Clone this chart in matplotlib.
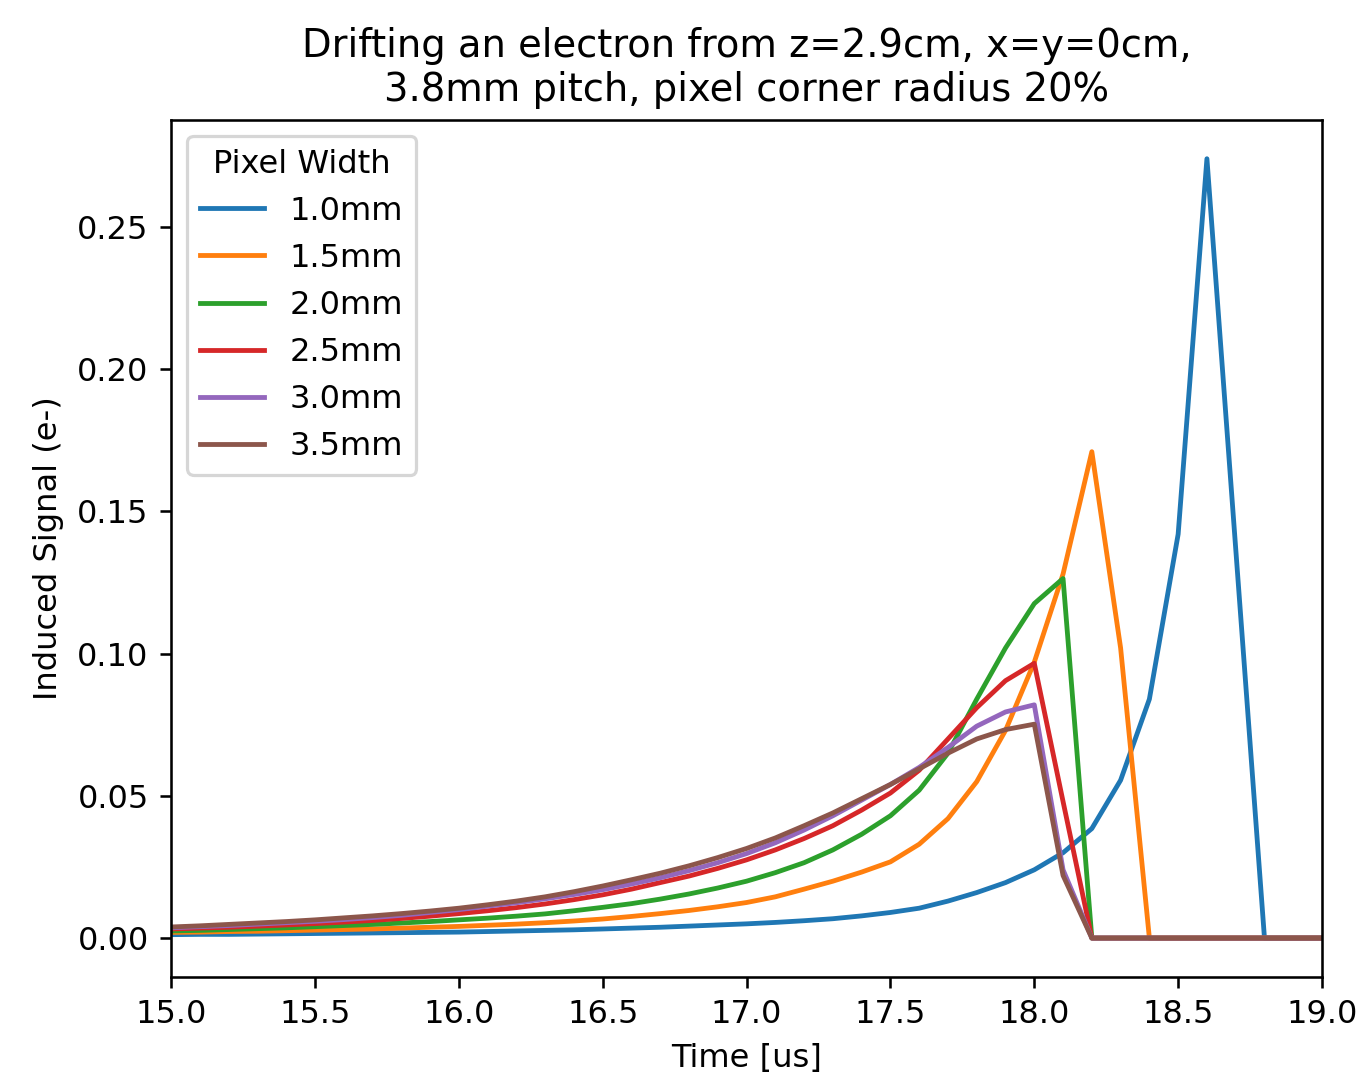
import matplotlib

matplotlib.use("Agg")
import matplotlib.pyplot as plt
import numpy as np

# time samples [us], 0.1 us steps
time_us = [15.0, 15.1, 15.2, 15.3, 15.4, 15.5, 15.6, 15.7, 15.8, 15.9,
           16.0, 16.1, 16.2, 16.3, 16.4, 16.5, 16.6, 16.7, 16.8, 16.9,
           17.0, 17.1, 17.2, 17.3, 17.4, 17.5, 17.6, 17.7, 17.8, 17.9,
           18.0, 18.1, 18.2, 18.3, 18.4, 18.5, 18.6, 18.7, 18.8, 18.9, 19.0]

widths = ["1.0mm", "1.5mm", "2.0mm", "2.5mm", "3.0mm", "3.5mm"]

sig_10 = [.0012, .0013, .0013, .0014, .0015, .0016, .0017, .0018, .0019, .0020,
          .0021, .0023, .0025, .0027, .0029, .0032, .0035, .0038, .0042, .0046,
          .0050, .0055, .0061, .0068, .0078, .0090, .0105, .0130, .0160, .0195,
          .0240, .0300, .0385, .0555, .0840, .1420, .2740, .1370, 0, 0, 0]
sig_15 = [.0020, .0021, .0023, .0024, .0026, .0028, .0030, .0032, .0035, .0038,
          .0041, .0045, .0049, .0054, .0060, .0067, .0076, .0086, .0097, .0110,
          .0125, .0145, .0172, .0200, .0232, .0268, .0330, .0420, .0550, .0730,
          .0970, .1280, .1710, .1020, 0, 0, 0, 0, 0, 0, 0]
sig_20 = [.0025, .0027, .0030, .0033, .0036, .0040, .0044, .0048, .0053, .0058,
          .0064, .0070, .0077, .0085, .0096, .0108, .0121, .0137, .0155, .0176,
          .0200, .0230, .0265, .0310, .0365, .0430, .0520, .0650, .0840, .1020,
          .1176, .1264, 0, 0, 0, 0, 0, 0, 0, 0, 0]
sig_25 = [.0032, .0035, .0038, .0042, .0046, .0051, .0056, .0062, .0069, .0077,
          .0086, .0096, .0107, .0120, .0135, .0152, .0172, .0195, .0218, .0245,
          .0275, .0310, .0350, .0395, .0450, .0510, .0590, .0700, .0810, .0905,
          .0966, .0480, 0, 0, 0, 0, 0, 0, 0, 0, 0]
sig_30 = [.0036, .0040, .0044, .0049, .0054, .0059, .0065, .0072, .0080, .0090,
          .0100, .0112, .0124, .0138, .0153, .0170, .0190, .0212, .0237, .0265,
          .0297, .0335, .0380, .0430, .0485, .0540, .0600, .0670, .0745, .0795,
          .0820, .0240, 0, 0, 0, 0, 0, 0, 0, 0, 0]
sig_35 = [.0039, .0043, .0048, .0053, .0058, .0064, .0071, .0078, .0086, .0095,
          .0105, .0117, .0130, .0145, .0163, .0183, .0205, .0228, .0254, .0283,
          .0315, .0352, .0395, .0440, .0490, .0540, .0595, .0650, .0700, .0733,
          .0752, .0220, 0, 0, 0, 0, 0, 0, 0, 0, 0]

signals = [sig_10, sig_15, sig_20, sig_25, sig_30, sig_35]

DPI = 231
fig = plt.figure(figsize=(1358 / DPI, 1079 / DPI), dpi=DPI)
ax = fig.add_axes([0.126, 0.0945, 0.8475, 0.7945])

for lab, sig in zip(widths, signals):
    ax.plot(time_us, sig, label=lab)

ax.set_xlim(15.0, 19.0)
ax.set_xlabel("Time [us]")
ax.set_ylabel("Induced Signal (e-)")
ax.set_title("Drifting an electron from z=2.9cm, x=y=0cm,\n3.8mm pitch, pixel corner radius 20%")
ax.legend(title="Pixel Width", loc="upper left")

fig.savefig("out.png", dpi=DPI)
